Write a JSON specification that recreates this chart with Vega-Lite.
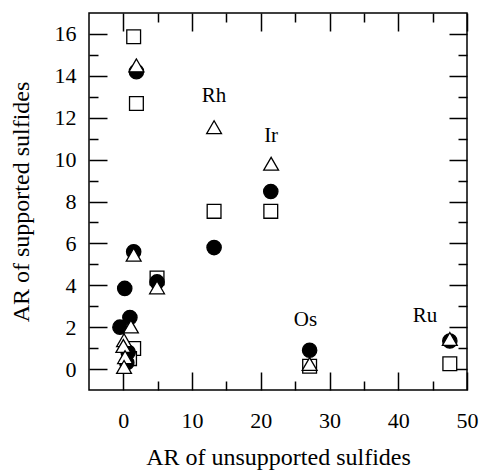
{
  "$schema": "https://vega.github.io/schema/vega-lite/v6.json",
  "width": 378,
  "height": 377,
  "autosize": "none",
  "padding": {"left": 89, "top": 13, "right": 13, "bottom": 82},
  "background": "white",
  "config": {
    "view": {"stroke": "black", "strokeWidth": 1.5},
    "font": "Liberation Serif",
    "axis": {
      "domain": false,
      "grid": false,
      "ticks": true,
      "tickColor": "black",
      "tickWidth": 1.5,
      "labelFont": "Liberation Serif",
      "labelFontSize": 22,
      "labelColor": "black",
      "labelOverlap": false,
      "labelFlush": false,
      "titleFont": "Liberation Serif",
      "titleFontSize": 24,
      "titleFontWeight": "normal",
      "titleColor": "black"
    }
  },
  "datasets": {
    "points": [
      {"set": "square", "x": 1.5, "y": 15.87},
      {"set": "square", "x": 1.9, "y": 12.68},
      {"set": "square", "x": 13.2, "y": 7.53},
      {"set": "square", "x": 21.45, "y": 7.53},
      {"set": "square", "x": 4.9, "y": 4.35},
      {"set": "square", "x": 1.5, "y": 0.98},
      {"set": "square", "x": 0.9, "y": 0.5},
      {"set": "square", "x": 27.1, "y": 0.13},
      {"set": "square", "x": 47.5, "y": 0.25},
      {"set": "circle", "x": 1.9, "y": 14.2},
      {"set": "circle", "x": 1.5, "y": 5.6},
      {"set": "circle", "x": 4.9, "y": 4.16},
      {"set": "circle", "x": 0.2, "y": 3.85},
      {"set": "circle", "x": 0.95, "y": 2.46},
      {"set": "circle", "x": -0.5, "y": 2.0},
      {"set": "circle", "x": 0.7, "y": 0.8},
      {"set": "circle", "x": 0.5, "y": 0.3},
      {"set": "circle", "x": 13.2, "y": 5.8},
      {"set": "circle", "x": 21.45, "y": 8.48},
      {"set": "circle", "x": 27.1, "y": 0.9},
      {"set": "circle", "x": 47.5, "y": 1.34},
      {"set": "triangle", "x": 1.9, "y": 14.5},
      {"set": "triangle", "x": 1.5, "y": 5.46},
      {"set": "triangle", "x": 4.9, "y": 3.9},
      {"set": "triangle", "x": 1.1, "y": 2.03},
      {"set": "triangle", "x": 0.1, "y": 1.38},
      {"set": "triangle", "x": 0.0, "y": 1.1},
      {"set": "triangle", "x": 0.25, "y": 0.57},
      {"set": "triangle", "x": 0.1, "y": 0.1},
      {"set": "triangle", "x": 13.2, "y": 11.55},
      {"set": "triangle", "x": 21.5, "y": 9.8},
      {"set": "triangle", "x": 27.1, "y": 0.24},
      {"set": "triangle", "x": 47.5, "y": 1.44}
    ],
    "labels": [
      {"label": "Rh", "x": 13.2, "y": 13.06},
      {"label": "Ir", "x": 21.5, "y": 11.15},
      {"label": "Os", "x": 26.5, "y": 2.34},
      {"label": "Ru", "x": 43.9, "y": 2.53}
    ]
  },
  "layer": [
    {
      "data": {"name": "points"},
      "mark": {"type": "point", "filled": true, "stroke": "black", "strokeWidth": 1.3, "opacity": 1},
      "encoding": {
        "x": {
          "field": "x", "type": "quantitative",
          "scale": {"domain": [-5, 50], "nice": false, "zero": false},
          "axis": {
            "orient": "bottom",
            "values": [0, 10, 20, 30, 40, 50],
            "tickSize": -18,
            "labelPadding": 38,
            "title": "AR of  unsupported sulfides",
            "titlePadding": 14
          }
        },
        "y": {
          "field": "y", "type": "quantitative",
          "scale": {"domain": [-1, 17], "nice": false, "zero": false},
          "axis": {
            "orient": "left",
            "values": [0, 2, 4, 6, 8, 10, 12, 14, 16],
            "tickSize": -18,
            "labelPadding": 31,
            "title": "AR of  supported sulfides",
            "titlePadding": 21
          }
        },
        "shape": {
          "field": "set", "type": "nominal",
          "scale": {"domain": ["square", "circle", "triangle"], "range": ["square", "circle", "triangle-up"]},
          "legend": null
        },
        "fill": {
          "field": "set", "type": "nominal",
          "scale": {"domain": ["square", "circle", "triangle"], "range": ["white", "black", "white"]},
          "legend": null
        },
        "size": {
          "field": "set", "type": "ordinal",
          "scale": {"domain": ["square", "circle", "triangle"], "range": [190, 220, 320]},
          "legend": null
        }
      }
    },
    {
      "data": {"name": "labels"},
      "mark": {"type": "text", "font": "Liberation Serif", "fontSize": 21, "color": "black", "align": "center", "baseline": "middle"},
      "encoding": {
        "x": {
          "field": "x", "type": "quantitative",
          "scale": {"domain": [-5, 50], "nice": false, "zero": false},
          "axis": {"orient": "top", "values": [0, 10, 20, 30, 40, 50], "tickSize": -18, "labels": false, "title": null}
        },
        "y": {
          "field": "y", "type": "quantitative",
          "scale": {"domain": [-1, 17], "nice": false, "zero": false},
          "axis": {"orient": "right", "values": [0, 2, 4, 6, 8, 10, 12, 14, 16], "tickSize": -18, "labels": false, "title": null}
        },
        "text": {"field": "label", "type": "nominal"}
      }
    },
    {
      "data": {"name": "labels"},
      "mark": {"type": "text", "opacity": 0},
      "encoding": {
        "x": {
          "field": "x", "type": "quantitative",
          "scale": {"domain": [-5, 50], "nice": false, "zero": false},
          "axis": {"orient": "bottom", "values": [5, 15, 25, 35, 45], "tickSize": -9, "labels": false, "title": null}
        },
        "y": {
          "field": "y", "type": "quantitative",
          "scale": {"domain": [-1, 17], "nice": false, "zero": false},
          "axis": {"orient": "left", "values": [1, 3, 5, 7, 9, 11, 13, 15], "tickSize": -9, "labels": false, "title": null}
        },
        "text": {"field": "label", "type": "nominal"}
      }
    },
    {
      "data": {"name": "labels"},
      "mark": {"type": "text", "opacity": 0},
      "encoding": {
        "x": {
          "field": "x", "type": "quantitative",
          "scale": {"domain": [-5, 50], "nice": false, "zero": false},
          "axis": {"orient": "top", "values": [5, 15, 25, 35, 45], "tickSize": -9, "labels": false, "title": null}
        },
        "y": {
          "field": "y", "type": "quantitative",
          "scale": {"domain": [-1, 17], "nice": false, "zero": false},
          "axis": {"orient": "right", "values": [1, 3, 5, 7, 9, 11, 13, 15], "tickSize": -9, "labels": false, "title": null}
        },
        "text": {"field": "label", "type": "nominal"}
      }
    }
  ],
  "resolve": {"axis": {"x": "independent", "y": "independent"}}
}
